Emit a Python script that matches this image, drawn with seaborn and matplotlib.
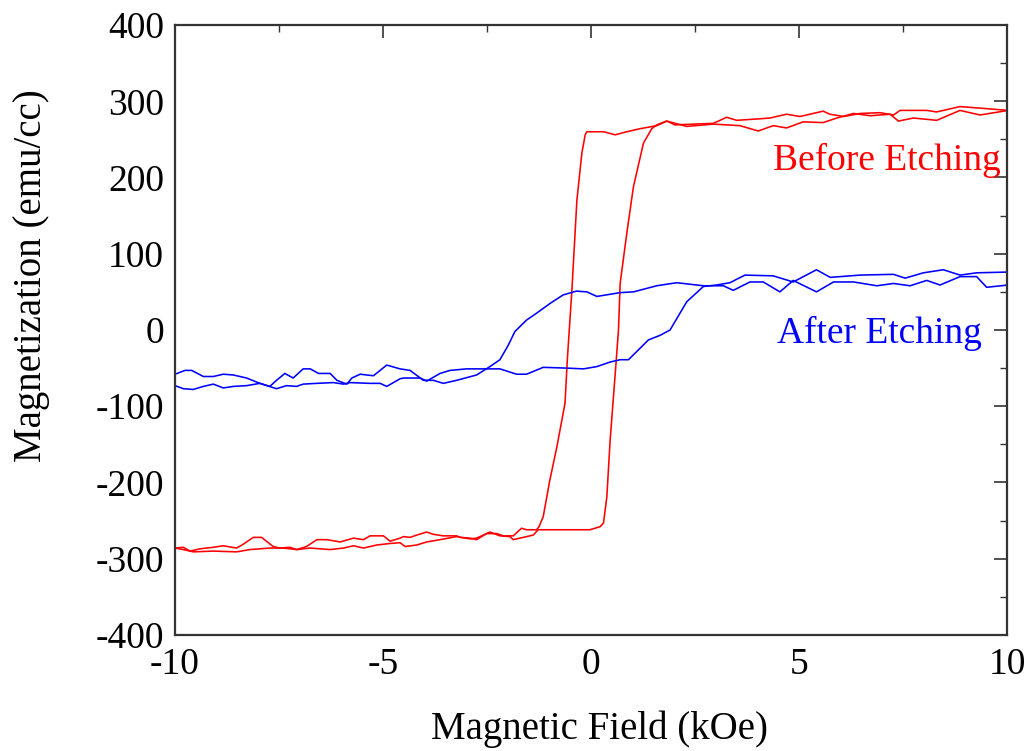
import matplotlib
matplotlib.use("Agg")
import matplotlib.pyplot as plt
import seaborn as sns
from matplotlib.ticker import MultipleLocator

# ---- Data ----
# Before etching: descending branch (field +10 -> -10)
before_desc_H = [10.03, 9.35, 8.87, 8.31, 7.75, 7.39, 7.19, 6.71, 6.31, 5.91, 5.58, 5.10, 4.70, 4.38,
                 4.02, 3.58, 2.94, 2.30, 1.82, 1.58, 1.18, 0.86, 0.58, 0.30, -0.10, -0.14, -0.22,
                 -0.34, -0.46, -0.57, -0.625, -0.82, -0.99, -1.15, -1.25, -1.31, -1.55, -1.67,
                 -1.87, -2.11, -2.27, -2.51, -2.75, -2.91, -3.15, -3.23, -3.55, -3.79, -3.95,
                 -4.19, -4.35, -4.51, -4.59, -4.83, -4.99, -5.31, -5.47, -5.71, -6.03, -6.35,
                 -6.59, -6.84, -7.07, -7.24, -7.48, -7.64, -7.92, -8.12, -8.36, -8.52, -8.84,
                 -9.08, -9.40, -9.64, -9.80, -10.0]
before_desc_M = [288, 282, 288, 275, 278, 274, 283, 281, 284, 278, 272, 273, 265, 268,
                 261, 268, 270, 267, 274, 268, 264, 260, 256, 260, 260, 256, 232,
                 170, 52, -39, -96, -153, -197, -245, -258, -262, -262, -260,
                 -270, -270, -267, -267, -275, -273, -272, -270, -270, -268, -265,
                 -269, -272, -271, -273, -277, -270, -270, -275, -273, -278, -275,
                 -275, -284, -288, -285, -286, -284, -272, -272, -281, -286, -283,
                 -285, -287, -290, -285, -286]
# Before etching: ascending branch (field -10 -> +10)
before_asc_H = [-10.0, -9.80, -9.56, -9.08, -8.52, -8.20, -7.72, -7.40, -7.07, -6.75, -6.27, -5.95,
                -5.71, -5.47, -5.15, -4.83, -4.59, -4.47, -4.19, -3.95, -3.63, -3.23, -2.91,
                -2.75, -2.43, -2.19, -1.95, -1.87, -1.63, -1.39, -1.27, -0.67, -0.03, 0.22,
                0.30, 0.38, 0.46, 0.54, 0.60, 0.66, 0.70, 0.86, 1.02, 1.26, 1.46, 1.58, 1.82,
                2.02, 2.46, 2.94, 3.26, 3.50, 4.06, 4.30, 4.70, 5.02, 5.58, 5.74, 6.07, 6.47,
                6.95, 7.27, 7.43, 8.07, 8.31, 8.87, 9.35, 10.03]
before_asc_M = [-286, -288, -291, -290, -291, -288, -286, -286, -288, -286, -288, -286,
                -283, -286, -282, -280, -279, -284, -282, -278, -275, -271, -274,
                -273, -265, -270, -271, -275, -272, -269, -262, -262, -262, -258,
                -253, -219, -144, -87, -44, 0, 61, 127, 188, 245, 264, 269, 274,
                269, 270, 271, 279, 275, 277, 278, 283, 280, 287, 283, 280, 284,
                285, 282, 288, 288, 286, 293, 291, 288]

# After etching: descending branch (field +10 -> -10)
after_desc_H = [10.03, 9.51, 9.27, 8.87, 8.39, 8.07, 7.67, 7.27, 6.87, 6.31, 5.83, 5.42, 4.86,
                4.54, 4.14, 3.82, 3.42, 3.18, 2.70, 2.06, 1.58, 1.02, 0.70, 0.14, -0.10, -0.35,
                -0.67, -0.98, -1.31, -1.55, -1.83, -1.99, -2.19, -2.43, -2.75, -3.23, -3.55,
                -3.79, -4.03, -4.35, -4.59, -4.91, -5.23, -5.55, -5.75, -5.87, -6.11, -6.27,
                -6.55, -6.75, -6.92, -7.16, -7.36, -7.56, -7.72, -7.96, -8.28, -8.60, -8.84,
                -9.08, -9.32, -9.60, -9.76, -10.0]
after_desc_M = [59, 56, 70, 70, 59, 65, 58, 61, 58, 63, 63, 50, 65,
                50, 63, 63, 52, 58, 58, 62, 58, 50, 49, 44, 50, 51,
                46, 35, 22, 13, -2, -20, -39, -48, -59, -66, -70,
                -66, -66, -53, -51, -46, -60, -58, -63, -71, -66, -57,
                -57, -51, -51, -63, -57, -66, -74, -70, -63, -59, -58,
                -61, -61, -53, -53, -58]
# After etching: ascending branch (field -10 -> +10)
after_asc_H = [-10.0, -9.80, -9.56, -9.32, -9.08, -8.84, -8.60, -8.28, -7.96, -7.56, -7.32, -7.08,
               -6.92, -6.60, -6.19, -5.95, -5.79, -5.31, -5.07, -4.91, -4.59, -4.51, -4.11,
               -3.95, -3.63, -3.39, -2.99, -2.67, -2.19, -1.79, -1.55, -1.15, -0.58, -0.18,
               0.14, 0.46, 0.70, 0.90, 1.38, 1.66, 1.90, 2.30, 2.70, 3.02, 3.34, 3.70, 4.38,
               4.86, 5.42, 5.75, 6.47, 7.27, 7.55, 7.99, 8.47, 8.87, 9.27, 10.03]
after_asc_M = [-73, -77, -78, -74, -71, -76, -74, -73, -70, -77, -73, -74,
               -71, -70, -69, -71, -69, -70, -70, -74, -64, -63, -63,
               -67, -57, -53, -51, -51, -51, -58, -58, -49, -50, -51,
               -48, -42, -39, -39, -13, -7, 0, 37, 57, 59, 62, 72, 71,
               63, 79, 69, 72, 73, 68, 75, 79, 72, 75, 76]

x_ticks = [-10, -5, 0, 5, 10]
y_ticks = [-400, -300, -200, -100, 0, 100, 200, 300, 400]
labels = ["Before Etching", "After Etching"]
colors = ["#ff0000", "#0000ff"]

# ---- Plot ----
sns.set_theme(style="white")
plt.rcParams["font.family"] = ["Liberation Serif", "DejaVu Serif"]
plt.rcParams["axes.unicode_minus"] = False

fig = plt.figure(figsize=(10.32, 7.51), dpi=100)
ax = fig.add_axes([0.1696, 0.1545, 0.8062, 0.8122])

lw = 1.15
for H, M in [(before_desc_H, before_desc_M), (before_asc_H, before_asc_M)]:
    sns.lineplot(x=H, y=M, ax=ax, color=colors[0], lw=lw, sort=False, estimator=None)
for H, M in [(after_desc_H, after_desc_M), (after_asc_H, after_asc_M)]:
    sns.lineplot(x=H, y=M, ax=ax, color=colors[1], lw=lw, sort=False, estimator=None)

ax.set_xlim(-10, 10)
ax.set_ylim(-400, 400)
ax.set_xticks(x_ticks)
ax.set_yticks(y_ticks)
ax.xaxis.set_minor_locator(MultipleLocator(2.5))
ax.yaxis.set_minor_locator(MultipleLocator(50))
ax.tick_params(which="both", direction="in", top=True, right=True, color="#333333",
               labelsize=27, labelcolor="black")
ax.tick_params(which="major", length=9.5, width=1.2)
ax.tick_params(which="minor", length=5, width=1.0)
ax.tick_params(axis="x", which="major", pad=9)
ax.tick_params(axis="y", which="major", pad=8)
for s in ax.spines.values():
    s.set_color("#333333")
    s.set_linewidth(1.6)

ax.set_xlabel("Magnetic Field (kOe)", fontsize=28, color="black")
ax.set_ylabel("Magnetization (emu/cc)", fontsize=28, color="black")
ax.xaxis.set_label_coords(0.51, -0.124)
ax.yaxis.set_label_coords(-0.150, 0.589)

ax.text(9.85, 223, labels[0], color=colors[0], fontsize=27, ha="right", va="center")
ax.text(9.4, -4, labels[1], color=colors[1], fontsize=27, ha="right", va="center")

fig.savefig("out.png", dpi=100, facecolor="white")
